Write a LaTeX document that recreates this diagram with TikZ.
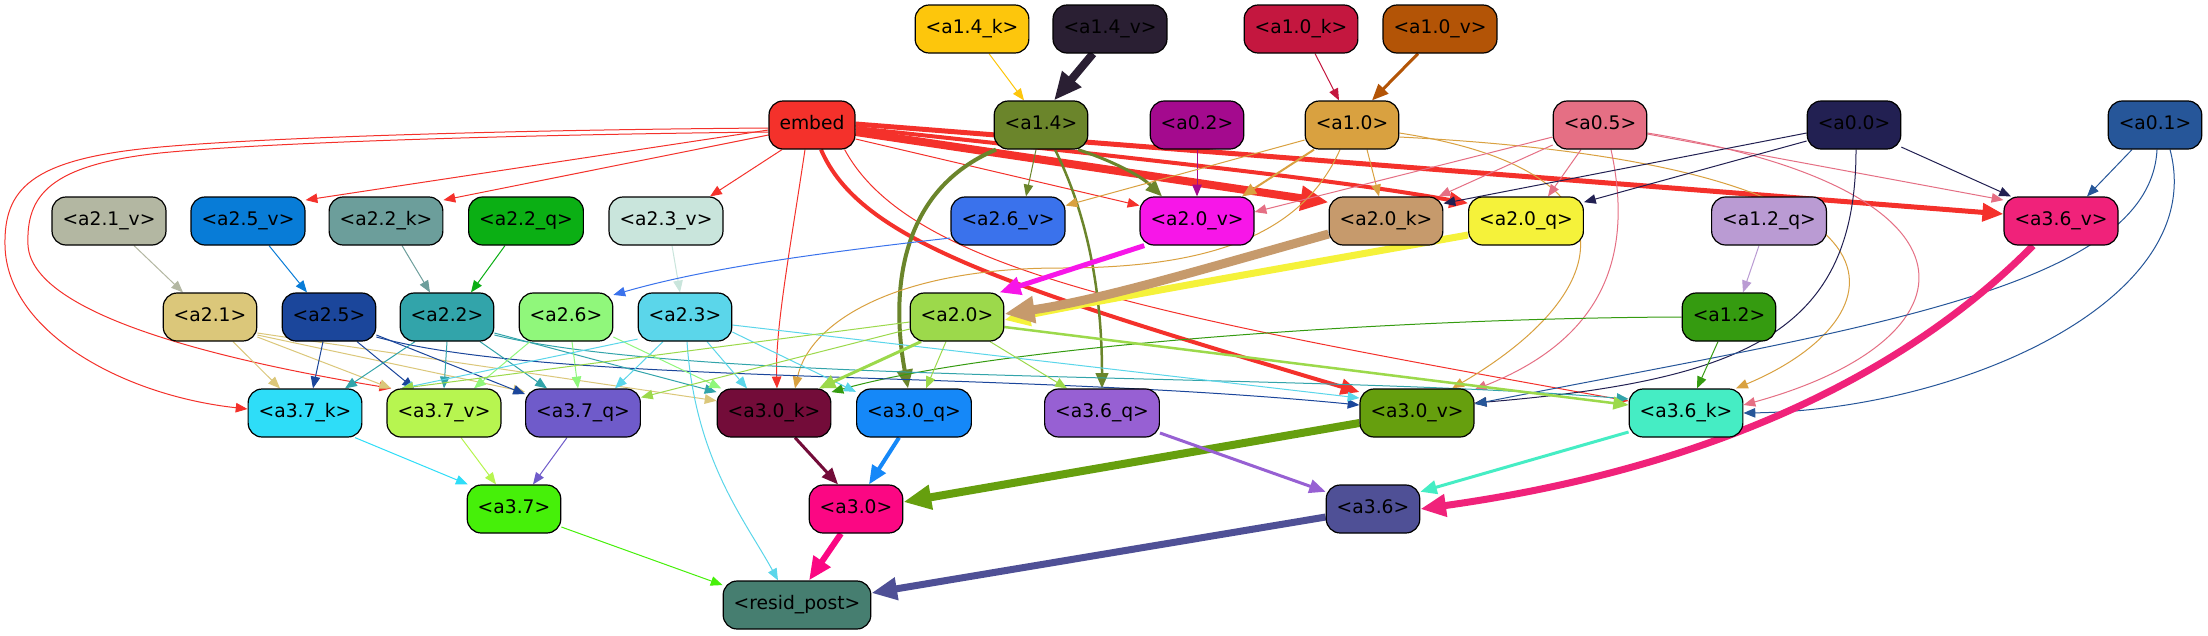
\documentclass[tikz,border=0pt]{standalone}
\usepackage{fontspec}
\setmainfont{DejaVu Sans}
\usetikzlibrary{arrows.meta}
\pgfdeclarelayer{back}
\pgfdeclarelayer{bg}
\pgfsetlayers{back,bg,main}
\definecolor{cemb}{HTML}{F4312B}
\definecolor{ca14k}{HTML}{FDC60C}
\definecolor{ca14v}{HTML}{2A1F33}
\definecolor{ca10k}{HTML}{C4173F}
\definecolor{ca10v}{HTML}{B35406}
\definecolor{ca14}{HTML}{6B852B}
\definecolor{ca02}{HTML}{A40A8E}
\definecolor{ca10}{HTML}{D9A140}
\definecolor{ca05}{HTML}{E56F84}
\definecolor{ca00}{HTML}{222052}
\definecolor{ca01}{HTML}{265699}
\definecolor{ca21v}{HTML}{B3B7A2}
\definecolor{ca25v}{HTML}{087CD7}
\definecolor{ca22k}{HTML}{6C9E9B}
\definecolor{ca22q}{HTML}{0BAF14}
\definecolor{ca23v}{HTML}{C9E5DC}
\definecolor{ca26v}{HTML}{3A72EC}
\definecolor{ca20v}{HTML}{F716E8}
\definecolor{ca20k}{HTML}{C69A6C}
\definecolor{ca20q}{HTML}{F5F23A}
\definecolor{ca12q}{HTML}{BA9BD3}
\definecolor{ca36v}{HTML}{F0227A}
\definecolor{ca21}{HTML}{DBC77A}
\definecolor{ca25}{HTML}{1B469B}
\definecolor{ca22}{HTML}{32A4AA}
\definecolor{ca26}{HTML}{90F77B}
\definecolor{ca23}{HTML}{5BD6EA}
\definecolor{ca20}{HTML}{9CD94B}
\definecolor{ca12}{HTML}{359B10}
\definecolor{ca37k}{HTML}{2EDDF8}
\definecolor{ca37v}{HTML}{B7F550}
\definecolor{ca37q}{HTML}{6F5BCA}
\definecolor{ca30k}{HTML}{730C39}
\definecolor{ca30q}{HTML}{1588F8}
\definecolor{ca36q}{HTML}{9760D3}
\definecolor{ca30v}{HTML}{669F0E}
\definecolor{ca36k}{HTML}{45EDC4}
\definecolor{ca37}{HTML}{46F009}
\definecolor{ca30}{HTML}{FB0783}
\definecolor{ca36}{HTML}{4F5096}
\definecolor{crp}{HTML}{467E70}
\begin{document}
\begin{tikzpicture}[x=1pt,y=-1pt,
  nd/.style={draw=black,line width=1.2pt,rounded corners=14pt,minimum height=48pt,
    inner xsep=10.5pt,inner ysep=0pt,text height=14pt,text depth=4.5pt,
    font=\fontsize{18.7}{22}\selectfont,text=black},
  ed/.style={-{Triangle[length=9.5pt 2.3,width=7.5pt 2]},line width=1pt}]
\useasboundingbox (0,0) rectangle (2208,635);
\begin{pgfonlayer}{back}
\fill[white] (0,0) rectangle (2208,635);
\end{pgfonlayer}
% row 1
\node[nd,fill=ca14k] (a14k) at (972,29) {<a1.4\_k>};
\node[nd,fill=ca14v] (a14v) at (1110,29) {<a1.4\_v>};
\node[nd,fill=ca10k] (a10k) at (1301,29) {<a1.0\_k>};
\node[nd,fill=ca10v] (a10v) at (1440,29) {<a1.0\_v>};
% row 2
\node[nd,fill=cemb] (emb) at (812,125) {embed};
\node[nd,fill=ca14] (a14) at (1041,125) {<a1.4>};
\node[nd,fill=ca02] (a02) at (1197,125) {<a0.2>};
\node[nd,fill=ca10] (a10) at (1352,125) {<a1.0>};
\node[nd,fill=ca05] (a05) at (1600,125) {<a0.5>};
\node[nd,fill=ca00] (a00) at (1854,125) {<a0.0>};
\node[nd,fill=ca01] (a01) at (2155,125) {<a0.1>};
% row 3
\node[nd,fill=ca21v] (a21v) at (109,221) {<a2.1\_v>};
\node[nd,fill=ca25v] (a25v) at (248,221) {<a2.5\_v>};
\node[nd,fill=ca22k] (a22k) at (386,221) {<a2.2\_k>};
\node[nd,fill=ca22q] (a22q) at (526,221) {<a2.2\_q>};
\node[nd,fill=ca23v] (a23v) at (666,221) {<a2.3\_v>};
\node[nd,fill=ca26v] (a26v) at (1008,221) {<a2.6\_v>};
\node[nd,fill=ca20v] (a20v) at (1197,221) {<a2.0\_v>};
\node[nd,fill=ca20k] (a20k) at (1386,221) {<a2.0\_k>};
\node[nd,fill=ca20q] (a20q) at (1526,221) {<a2.0\_q>};
\node[nd,fill=ca12q] (a12q) at (1769,221) {<a1.2\_q>};
\node[nd,fill=ca36v] (a36v) at (2061,221) {<a3.6\_v>};
% row 4
\node[nd,fill=ca21] (a21) at (210,317) {<a2.1>};
\node[nd,fill=ca25] (a25) at (329,317) {<a2.5>};
\node[nd,fill=ca22] (a22) at (447,317) {<a2.2>};
\node[nd,fill=ca26] (a26) at (566,317) {<a2.6>};
\node[nd,fill=ca23] (a23) at (685,317) {<a2.3>};
\node[nd,fill=ca20] (a20) at (957,317) {<a2.0>};
\node[nd,fill=ca12] (a12) at (1729,317) {<a1.2>};
% row 5
\node[nd,fill=ca37k] (a37k) at (305,413) {<a3.7\_k>};
\node[nd,fill=ca37v] (a37v) at (444,413) {<a3.7\_v>};
\node[nd,fill=ca37q] (a37q) at (583,413) {<a3.7\_q>};
\node[nd,fill=ca30k] (a30k) at (774,413) {<a3.0\_k>};
\node[nd,fill=ca30q] (a30q) at (914,413) {<a3.0\_q>};
\node[nd,fill=ca36q] (a36q) at (1102,413) {<a3.6\_q>};
\node[nd,fill=ca30v] (a30v) at (1417,413) {<a3.0\_v>};
\node[nd,fill=ca36k] (a36k) at (1686,413) {<a3.6\_k>};
% row 6
\node[nd,fill=ca37] (a37) at (514,509) {<a3.7>};
\node[nd,fill=ca30] (a30) at (856,509) {<a3.0>};
\node[nd,fill=ca36] (a36) at (1373,509) {<a3.6>};
% row 7
\node[nd,fill=crp] (rp) at (797,605) {<resid\_post>};

\begin{pgfonlayer}{bg}
% row 1 -> row 2
\draw[ed,ca14k] ([xshift=17pt]a14k.south) -- ([xshift=-17pt]a14.north);
\draw[ed,ca14v,line width=8pt] ([xshift=-17pt]a14v.south) -- ([xshift=13pt]a14.north);
\draw[ed,ca10k] ([xshift=14pt]a10k.south) -- ([xshift=-13pt]a10.north);
\draw[ed,ca10v,line width=3pt] ([xshift=-22pt]a10v.south) -- ([xshift=20pt]a10.north);
% embed
\draw[ed,cemb] ([yshift=-3pt]emb.west) .. controls (500,130) and (250,138) .. (150,148) .. controls (30,160) and (4,190) .. (5,245) .. controls (6,330) and (120,395) .. ([yshift=4pt]a37k.west);
\draw[ed,cemb] ([yshift=-7pt]emb.west) .. controls (500,135) and (260,143) .. (160,153) .. controls (50,165) and (26,195) .. (28,245) .. controls (32,320) and (250,365) .. (a37v.155);
\draw[ed,cemb] ([yshift=-5pt]emb.west) -- (a25v.20);
\draw[ed,cemb] ([yshift=-10pt]emb.west) -- (a22k.20);
\draw[ed,cemb] ([xshift=-30pt]emb.south) -- ([xshift=44pt]a23v.north);
\draw[ed,cemb] ([xshift=-7pt]emb.south) .. controls (790,250) and (775,330) .. ([xshift=3pt]a30k.north);
\draw[ed,cemb,line width=4pt] ([xshift=9pt]emb.south) .. controls (860,240) and (1000,285) .. (a30v.160);
\draw[ed,cemb] (emb.-37) .. controls (910,270) and (1150,315) .. ([yshift=12pt]a36k.west);
\draw[ed,cemb] ([yshift=-14pt]emb.east) -- (a20v.165);
\draw[ed,cemb,line width=5pt] ([yshift=1pt]emb.east) -- ([yshift=7pt]a36v.west);
\draw[ed,cemb,line width=4pt] ([yshift=-3pt]emb.east) .. controls (1200,165) and (1350,182) .. (a20q.163);
\draw[ed,cemb,line width=8pt] ([yshift=-7pt]emb.east) -- (a20k.162);
% a1.4
\draw[ed,ca14] ([xshift=-5pt]a14.south) -- ([xshift=18pt]a26v.north);
\draw[ed,ca14,line width=3pt] ([xshift=37pt]a14.south) .. controls (1110,160) and (1140,175) .. ([xshift=-35pt]a20v.north);
\draw[ed,ca14,line width=4pt] ([xshift=-45pt]a14.south) .. controls (900,190) and (890,290) .. ([xshift=-6pt]a30q.north);
\draw[ed,ca14,line width=2.5pt] ([xshift=14pt]a14.south) .. controls (1090,220) and (1102,300) .. (a36q.north);
% a0.2
\draw[ed,ca02] (a02.south) -- (a20v.north);
% a1.0
\draw[ed,ca10] ([yshift=-15pt]a10.west) -- (a26v.15);
\draw[ed,ca10,line width=2pt] ([xshift=-38pt]a10.south) -- ([xshift=45pt]a20v.north);
\draw[ed,ca10] ([xshift=15pt]a10.south) -- ([xshift=-7pt]a20k.north);
\draw[ed,ca10] ([xshift=-12pt]a10.south) .. controls (1300,240) and (1200,268) .. (1060,268) .. controls (900,268) and (810,320) .. ([xshift=21pt]a30k.north);
\draw[ed,ca10] ([yshift=-8pt]a10.east) .. controls (1640,170) and (1620,290) .. (a30v.35);
\draw[ed,ca10] ([yshift=-12pt]a10.east) .. controls (1950,165) and (1900,320) .. ([xshift=50pt]a36k.north);
% a0.5
\draw[ed,ca05] ([yshift=-12pt]a05.west) -- ([yshift=9pt]a20v.east);
\draw[ed,ca05] ([yshift=-20pt]a05.west) -- (a20k.25);
\draw[ed,ca05] ([xshift=-19pt]a05.south) -- ([xshift=22pt]a20q.north);
\draw[ed,ca05] ([yshift=-9pt]a05.east) -- (a36v.160);
\draw[ed,ca05] ([xshift=11pt]a05.south) .. controls (1635,260) and (1600,340) .. (a30v.22);
\draw[ed,ca05] ([yshift=-8pt]a05.east) .. controls (2000,190) and (1980,340) .. ([yshift=8pt]a36k.east);
% a0.0
\draw[ed,ca00] ([yshift=-8pt]a00.west) -- (a20k.17);
\draw[ed,ca00] ([yshift=-16pt]a00.west) -- (a20q.18);
\draw[ed,ca00] (a00.-25) -- ([xshift=-50pt]a36v.north);
\draw[ed,ca00] ([xshift=2pt]a00.south) .. controls (1856,330) and (1750,380) .. ([yshift=10pt]a30v.east);
% a0.1
\draw[ed,ca01] ([xshift=-23pt]a01.south) -- ([xshift=26pt]a36v.north);
\draw[ed,ca01] ([xshift=2pt]a01.south) .. controls (2150,290) and (1850,330) .. ([yshift=9pt]a30v.east);
\draw[ed,ca01] ([xshift=15pt]a01.south) .. controls (2210,300) and (1960,410) .. (a36k.east);
% a1.2
\draw[ed,ca12q] ([xshift=-10pt]a12q.south) -- ([xshift=14pt]a12.north);
\draw[ed,ca12] ([xshift=-11pt]a12.south) -- ([xshift=11pt]a36k.north);
\draw[ed,ca12] (a12.west) .. controls (1400,318) and (1000,345) .. (a30k.20);
% row 3 -> row 4
\draw[ed,ca21v] ([xshift=25pt]a21v.south) -- ([xshift=-27pt]a21.north);
\draw[ed,ca25v] ([xshift=21pt]a25v.south) -- ([xshift=-22pt]a25.north);
\draw[ed,ca22k] ([xshift=16pt]a22k.south) -- ([xshift=-17pt]a22.north);
\draw[ed,ca22q] ([xshift=-21pt]a22q.south) -- ([xshift=24pt]a22.north);
\draw[ed,ca23v] ([xshift=6pt]a23v.south) -- ([xshift=-5pt]a23.north);
\draw[ed,ca26v] ([yshift=-17pt]a26v.west) .. controls (800,255) and (700,270) .. (a26.25);
\draw[ed,ca20q,line width=7pt] ([yshift=-14pt]a20q.west) .. controls (1300,265) and (1100,300) .. ([yshift=-3pt]a20.east);
\draw[ed,ca20v,line width=5pt] (a20v.205) -- (a20.30);
\draw[ed,ca20k,line width=9pt] ([yshift=-13pt]a20k.west) .. controls (1200,270) and (1100,300) .. ([yshift=3pt]a20.east);
% a2.1
\draw[ed,ca21] ([xshift=23pt]a21.south) -- ([xshift=-25pt]a37k.north);
\draw[ed,ca21] ([yshift=-20pt]a21.east) -- (a37v.155);
\draw[ed,ca21] ([yshift=-18pt]a21.east) -- (a37q.160);
\draw[ed,ca21] ([yshift=-16pt]a21.east) -- (a30k.168);
% a2.5
\draw[ed,ca25] ([xshift=-6pt]a25.south) -- ([xshift=8pt]a37k.north);
\draw[ed,ca25] ([xshift=28pt]a25.south) -- ([xshift=-30pt]a37v.north);
\draw[ed,ca25] ([yshift=-18pt]a25.east) -- (a37q.162);
\draw[ed,ca25] ([yshift=-20pt]a25.east) .. controls (550,385) and (1000,370) .. ([yshift=8pt]a30v.west);
% a2.2
\draw[ed,ca22] ([xshift=-32pt]a22.south) -- ([xshift=40pt]a37k.north);
\draw[ed,ca22] (a22.south) -- (a37v.north);
\draw[ed,ca22] ([xshift=33pt]a22.south) -- ([xshift=-36pt]a37q.north);
\draw[ed,ca22] ([yshift=-16pt]a22.east) -- (a30k.160);
\draw[ed,ca22] ([yshift=-18pt]a22.east) .. controls (700,385) and (1300,372) .. ([yshift=14pt]a36k.west);
% a2.6
\draw[ed,ca26] ([xshift=-36pt]a26.south) -- ([xshift=30pt]a37v.north);
\draw[ed,ca26] ([xshift=6pt]a26.south) -- ([xshift=-5pt]a37q.north);
\draw[ed,ca26] ([yshift=-20pt]a26.east) -- (a30k.155);
% a2.3
\draw[ed,ca23] (a23.205) -- (a37v.150);
\draw[ed,ca23] ([xshift=-22pt]a23.south) -- ([xshift=32pt]a37q.north);
\draw[ed,ca23] ([xshift=22pt]a23.south) -- ([xshift=-27pt]a30k.north);
\draw[ed,ca23] ([yshift=-15pt]a23.east) -- (a30q.160);
\draw[ed,ca23] ([yshift=-8pt]a23.east) -- ([yshift=15pt]a30v.west);
\draw[ed,ca23] ([xshift=2pt]a23.south) .. controls (695,460) and (745,520) .. ([xshift=-19pt]rp.north);
% a2.0
\draw[ed,ca20] ([yshift=-5pt]a20.west) -- (a37v.150);
\draw[ed,ca20] ([yshift=-12pt]a20.west) -- (a37q.15);
\draw[ed,ca20,line width=3pt] ([xshift=-36pt]a20.south) -- ([xshift=45pt]a30k.north);
\draw[ed,ca20] ([xshift=-11pt]a20.south) -- ([xshift=12pt]a30q.north);
\draw[ed,ca20] ([xshift=33pt]a20.south) -- ([xshift=-35pt]a36q.north);
\draw[ed,ca20,line width=2.5pt] ([yshift=-10pt]a20.east) -- ([yshift=8pt]a36k.west);
% row 5 -> row 6
\draw[ed,ca37k] ([xshift=50pt]a37k.south) -- (a37.152);
\draw[ed,ca37v] ([xshift=17pt]a37v.south) -- ([xshift=-18pt]a37.north);
\draw[ed,ca37q] ([xshift=-16pt]a37q.south) -- ([xshift=19pt]a37.north);
\draw[ed,ca30k,line width=3pt] ([xshift=21pt]a30k.south) -- ([xshift=-18pt]a30.north);
\draw[ed,ca30q,line width=4pt] ([xshift=-15pt]a30q.south) -- ([xshift=13pt]a30.north);
\draw[ed,ca30v,line width=8pt] ([yshift=-10pt]a30v.west) -- ([yshift=7pt]a30.east);
\draw[ed,ca36q,line width=3pt] ([yshift=-20pt]a36q.east) -- (a36.160);
\draw[ed,ca36k,line width=3pt] ([yshift=-19pt]a36k.west) -- (a36.20);
\draw[ed,ca36v,line width=7pt] ([xshift=-28pt]a36v.south) .. controls (1900,380) and (1700,470) .. (a36.east);
% row 6 -> resid_post
\draw[ed,ca37] ([yshift=-18pt]a37.east) -- (rp.165);
\draw[ed,ca30,line width=6pt] ([xshift=-15pt]a30.south) -- ([xshift=12pt]rp.north);
\draw[ed,ca36,line width=7pt] ([yshift=-8pt]a36.west) -- ([yshift=12pt]rp.east);
\end{pgfonlayer}
\end{tikzpicture}
\end{document}
